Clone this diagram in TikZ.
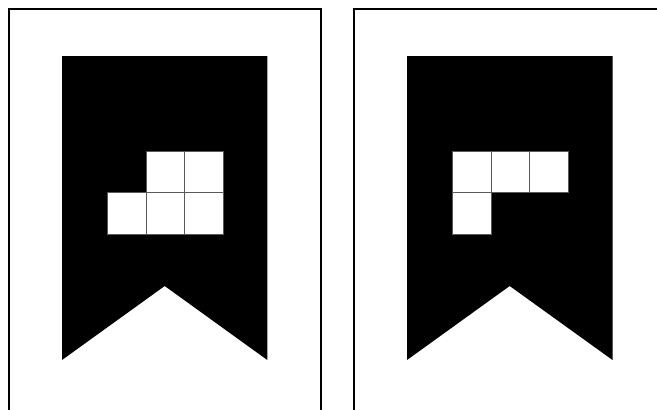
\documentclass[tikz,border=0pt]{standalone}
\usepackage{tikz}
\usetikzlibrary{positioning}

\begin{document}
\begin{tikzpicture}[
    x=1pt,
    y=-1pt,
    frame/.style={
        draw=black,
        line width=2pt
    },
    banner/.style={
        fill=black
    },
    cell/.style={
        fill=white,
        draw=black!65,
        line width=0.9pt
    }
]
\useasboundingbox (0,0) rectangle (657,410);
\clip (0,0) rectangle (657,410);

% Frames
\draw[frame] (9.3,440) -- (9.3,9) -- (321,9) -- (321,440);
\draw[frame] (354.3,440) -- (354.3,9) -- (690,9);

% Banners
\fill[banner] (62,56) -- (267.3,56) -- (267.3,360) -- (164.7,286) -- (62,360) -- cycle;
\fill[banner] (407,56) -- (612.5,56) -- (612.5,360) -- (509.7,286) -- (407,360) -- cycle;

% Left shape
\foreach \cx/\cy in {0/1, 1/0, 2/0, 1/1, 2/1}
    \draw[cell] ({107.5+38.5*\cx},{151+41.5*\cy}) rectangle ++(38.5,41.5);

% Right shape
\foreach \cx/\cy in {0/0, 1/0, 2/0, 0/1}
    \draw[cell] ({452.8+38.5*\cx},{151+41.5*\cy}) rectangle ++(38.5,41.5);

\end{tikzpicture}
\end{document}
